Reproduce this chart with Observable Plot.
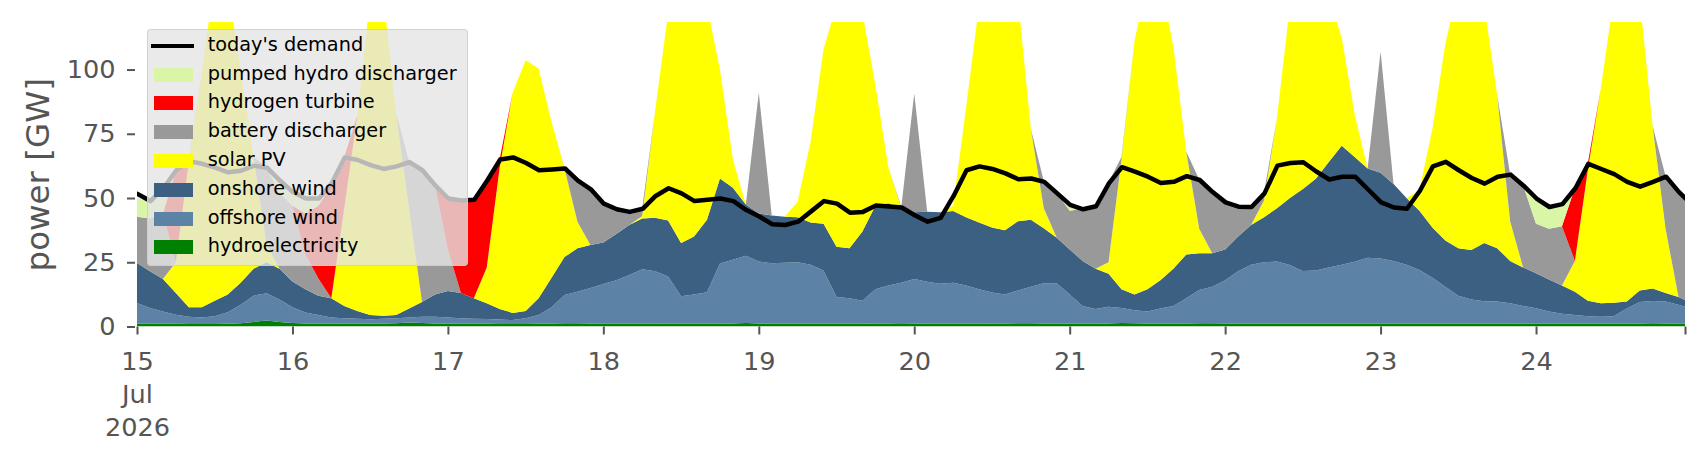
<!DOCTYPE html>
<html>
<head>
<meta charset="utf-8">
<script src="https://cdn.jsdelivr.net/npm/d3@7"></script>
<script src="https://cdn.jsdelivr.net/npm/@observablehq/plot@0.6"></script>
<style>
  html, body { margin: 0; padding: 0; background: #fff; }
  #wrap { position: relative; width: 1706px; height: 460px; font-family: "DejaVu Sans", sans-serif; }
  #legend {
    position: absolute; left: 146.7px; top: 29.3px; width: 321.6px; height: 236.4px;
    box-sizing: border-box; background: rgba(229,229,229,0.8);
    border: 1.5px solid rgba(204,204,204,0.8); border-radius: 4px;
  }
  .sw { position: absolute; left: 6px; width: 39.3px; height: 14px; }
  .ln { position: absolute; left: 3.5px; width: 43.3px; height: 4.5px; background: #000; }
  .lb { position: absolute; left: 60px; height: 28px; line-height: 28px; font-size: 19.3px; color: #000; white-space: nowrap; }
</style>
</head>
<body>
<div id="wrap"><div id="chart"></div><div id="legend"></div></div>
<script>
// hours after 15 Jul 2026 00:00
const hours = [
  0,2,4,6,8,10,12,14,16,18,20,22,
  24,26,28,30,32,34,36,38,40,42,44,46,
  48,50,52,54,56,58,60,62,64,66,68,70,
  72,74,76,78,80,82,84,86,88,90,92,94,
  96,98,100,102,104,106,108,110,112,114,116,118,
  120,122,124,126,128,130,132,134,136,138,140,142,
  144,146,148,150,152,154,156,158,160,162,164,166,
  168,170,172,174,176,178,180,182,184,186,188,190,
  192,194,196,198,200,202,204,206,208,210,212,214,
  216,218,220,222,224,226,228,230,232,234,236,238,239
];

// generation by technology [GW]
const hydroelectricity = [
  1.2,1.2,1.1,1.1,1.0,1.0,1.0,1.1,1.3,1.8,2.3,1.8,
  1.4,1.2,1.2,1.2,1.1,1.1,1.1,1.2,1.3,1.6,1.4,1.2,
  1.2,1.1,1.1,1.1,1.0,1.0,1.0,1.1,1.2,1.3,1.3,1.2,
  1.2,1.2,1.2,1.2,1.2,1.1,1.1,1.1,1.1,1.1,1.2,1.4,
  1.2,1.1,1.1,1.1,1.1,1.1,1.1,1.1,1.1,1.2,1.2,1.3,
  1.2,1.1,1.1,1.1,1.1,1.1,1.2,1.2,1.3,1.3,1.2,1.2,
  1.1,1.1,1.1,1.2,1.4,1.3,1.2,1.2,1.2,1.2,1.3,1.3,
  1.2,1.2,1.2,1.2,1.2,1.2,1.2,1.2,1.2,1.2,1.2,1.2,
  1.2,1.2,1.2,1.2,1.2,1.2,1.2,1.2,1.2,1.2,1.2,1.1,
  1.1,1.1,1.1,1.1,1.1,1.1,1.1,1.1,1.2,1.3,1.2,1.1,1.1
];
const offshoreWind = [
  7.9,6.0,4.7,3.5,2.8,2.5,3.0,4.4,7.2,10.2,10.6,8.7,
  6.1,4.2,3.3,2.3,2.1,1.9,1.7,1.8,1.9,1.9,2.4,2.6,
  2.3,2.1,1.9,1.8,1.7,1.5,2.2,3.4,6.3,11.0,12.2,13.8,
  15.3,16.8,18.8,21.1,20.3,18.4,10.7,11.4,12.2,23.4,24.8,26.1,
  24.1,23.5,23.7,23.9,22.9,20.7,10.4,9.9,8.9,13.3,14.8,15.7,
  17.3,16.3,15.5,15.9,14.9,13.4,12.0,11.3,12.7,14.2,15.6,15.6,
  11.4,6.9,5.7,6.5,5.8,5.0,4.6,5.8,6.8,9.8,12.9,14.2,
  16.8,20.3,22.8,23.8,24.1,22.7,20.4,20.6,21.8,22.8,24.0,25.6,
  25.3,24.3,22.8,20.8,17.8,14.3,10.8,9.3,8.6,8.5,7.8,6.9,
  6.0,4.7,3.9,3.4,2.9,2.7,2.9,5.9,8.3,8.6,8.5,7.4,6.6
];
const onshoreWind = [
  15.6,14.3,12.7,8.4,3.7,4.0,6.0,7.0,8.5,10.5,12.1,12.0,
  10.0,9.1,7.5,7.5,4.8,3.0,1.7,1.2,1.3,3.5,5.7,8.7,
  10.3,9.8,8.0,6.1,4.1,2.8,2.8,6.5,11.5,14.7,17.0,16.7,
  16.2,18.0,19.5,19.7,20.8,21.8,20.7,22.5,28.2,33.1,28.0,20.0,
  18.7,18.6,17.9,17.5,16.5,18.2,19.5,19.5,27.0,32.5,32.0,29.0,
  26.0,27.3,27.9,27.9,26.5,26.0,25.3,25.0,27.0,26.0,21.4,17.7,
  17.5,17.5,15.7,12.8,7.3,6.2,8.7,11.0,14.5,17.0,14.3,13.0,
  12.0,13.5,15.5,17.5,20.7,26.1,31.9,35.7,41.0,46.3,40.8,34.7,
  33.3,30.0,26.0,23.0,19.5,18.0,18.5,19.3,22.7,20.8,16.5,15.0,
  13.6,12.5,11.0,9.0,6.0,5.2,5.2,2.7,4.5,4.9,3.3,3.0,2.6
];
const solarPV = [
  0,0,0,12,56.5,91.5,125,119.5,83,43.5,7,0,
  0,0,0,0,38,76,123.5,125.8,78.5,39,0,0,
  0,0,0,14,55.2,85.7,97.6,89.4,60.7,34.5,10.3,0,
  0,0,0,1,41.7,80.7,102.5,103,83.5,42.4,11,0,
  0,0,0,6,31.5,68,94,107.5,85,47,14,0,
  0,0,0,2.1,42.5,84.5,99.5,97.5,87,35.5,7.8,0,
  0,0,0,4.5,50.5,98.5,120.5,117,86.5,40,9.5,0,
  0,0,0,6.5,35,75,86.5,82.5,64,42.2,16.5,0,
  0,0,0,8,38.5,76.5,101.5,105.2,92.5,59.5,15.5,0,
  0,0,0,12,51,83.6,118.8,128.3,114,63.2,25,0,0
];
const batteryDischarger = [
  18,20.5,25.5,0,0,0,0,0,0,0,30,29.5,
  29.5,13.5,6.7,0,0,0,0,0,0,18.2,51.5,42.5,
  16.2,0,0,0,0,0,0,0,0,0.2,16.2,21.9,
  15.3,9.8,5.3,3,0,0,0,0,0,0,0,0,
  47,0,0,0,0,0,0,0,0,0,0,0.5,
  46.2,0,0,0,0,0,0,0,0,0,10.5,17.5,
  15,20.3,24.5,31,1,0,0,0,0,0,19.2,24,
  18.5,11.8,7.2,3,0,0,0,0,0,0,0,0,
  47.2,0,0,0,0,0,0,0,0,0,18.3,32,
  19.3,19.7,23,0,0,0,0,0,0,0,20.5,41,39.7
];
const hydrogenTurbine = [
  0,0,0,35.5,0.5,0,0,0,0,0,0,0,
  0,16,28.3,44,20,0,0,0,0,0,0,0,
  20,36.2,38.5,34,3.2,0,0,0,0,0,0,0,
  0,0,0,0,0,0,0,0,0,0,0,0,
  0,0,0,0,0,0,0,0,0,0,0,0,
  0,0,0,0,0,0,0,0,0,0,0,0,
  0,0,0,0,0,0,0,0,0,0,0,0,
  0,0,0,0,0,0,0,0,0,0,0,0,
  0,0,0,0,0,0,0,0,0,0,0,0,
  0,0,0,28.5,2.5,0,0,0,0,0,0,0,0
];
const pumpedHydroDischarger = [
  7.3,6.5,9,0,0,0,0,0,0,0,0,5,
  5.5,6,3,1,0,0,0,0,0,0,0,0,
  0,0,0,0,0,0,0,0,0,0,0,0,
  0,0,0,0,0,0,0,0,0,0,0,0,
  0,0,0,0,0,0,0,0,0,0,0,0,
  0,0,0,0,0,0,0,0,0,0,0,0,
  2.5,0,0,0,0,0,0,0,0,0,0,0,
  0,0,0,0,0,0,0,0,0,0,0,0,
  0,0,0,0,0,0,0,0,0,0,0,0,
  10,8.7,8.8,0,0,0,0,0,0,0,0,0,0
];
const todaysDemand = [
  51.8,49,54,61,64.5,63.5,62,60.2,60.8,62.8,62,57,
  52.5,50,50,56,66,65,63,61.5,62.5,64.2,61,55,
  50,49.2,49.5,57,65.2,66,63.8,61,61.3,61.7,57,53.6,
  48,45.8,44.8,46,51,54,52,49,49.5,50,49,45.5,
  43,40,39.7,41,45,49,48,44.5,44.8,47.3,46.9,46.5,
  43.5,41,42.5,51,61,62.5,61.5,59.8,57.5,57.8,56.5,52,
  47.5,45.8,47,56,62.2,60.5,58.5,56,56.5,58.7,57.2,52.5,
  48.5,46.8,46.7,52,62.8,63.8,64.1,60.5,57.4,58.5,58.5,53.5,
  48.5,46.5,46,53,62.5,64.3,61,58,55.8,58.5,59.3,55,
  50,46.7,47.8,54,63.5,61.5,59.5,56.5,54.6,56.5,58.5,52.5,50
];

const seriesNames = ["hydroelectricity","offshore wind","onshore wind","solar PV","battery discharger","hydrogen turbine","pumped hydro discharger"];
const seriesColors = ["#008000","#5c83a6","#3b6082","#ffff00","#999999","#ff0000","#d9f5a6"];
const seriesValues = [hydroelectricity, offshoreWind, onshoreWind, solarPV, batteryDischarger, hydrogenTurbine, pumpedHydroDischarger];
const demandName = "today's demand";

const yTicks = [0, 25, 50, 75, 100];
const xTickHours = [0, 24, 48, 72, 96, 120, 144, 168, 192, 216, 239];
const xTickLabels = ["15\nJul\n2026","16","17","18","19","20","21","22","23","24",""];
const yLabel = "power [GW]";

const start = Date.UTC(2026, 6, 15);
const toDate = h => new Date(start + h * 3600000);
const dates = hours.map(toDate);

const rows = seriesNames.flatMap((name, k) =>
  seriesValues[k].map((v, i) => ({date: dates[i], value: v, series: name})));
const demandRows = todaysDemand.map((v, i) => ({date: dates[i], value: v}));
const tickDates = xTickHours.map(toDate);
const labelOf = new Map(tickDates.map((d, i) => [+d, xTickLabels[i]]));

const chart = Plot.plot({
  width: 1706,
  height: 460,
  marginLeft: 137,
  marginRight: 21,
  marginTop: 22,
  marginBottom: 133.5,
  style: {fontFamily: "'DejaVu Sans', sans-serif", fontSize: "25.6px", color: "#555", background: "#fff"},
  x: {type: "utc", domain: [dates[0], dates[dates.length - 1]], label: null},
  y: {domain: [0, 118.5], label: null},
  color: {domain: seriesNames, range: seriesColors},
  marks: [
    Plot.areaY(rows, {x: "date", y: "value", fill: "series", order: seriesNames, clip: true}),
    Plot.lineY(demandRows, {x: "date", y: "value", stroke: "#000", strokeWidth: 4.5, clip: true}),
    Plot.axisY({ticks: yTicks, tickSize: 8, tickPadding: 12, dx: -2, strokeWidth: 2, label: null, fontSize: 25.6}),
    Plot.axisX({ticks: tickDates, tickFormat: d => labelOf.get(+d) ?? "", tickSize: 8, tickPadding: 11,
                strokeWidth: 2, lineHeight: 1.3, label: null, fontSize: 25.6}),
    Plot.text([yLabel], {frameAnchor: "left", textAnchor: "middle", rotate: -90, dx: -99, fontSize: 32.5, fill: "#555"})
  ]
});
document.getElementById("chart").appendChild(chart);

// legend (drawn over the plot, semi-transparent like the original)
const legend = document.getElementById("legend");
const entries = [{name: demandName, line: true}]
  .concat(seriesNames.map((n, k) => ({name: n, color: seriesColors[k]})).reverse());
entries.forEach((e, k) => {
  const cy = 15.5 + 28.8 * k;
  const mark = document.createElement("div");
  if (e.line) { mark.className = "ln"; mark.style.top = (cy - 2.2) + "px"; }
  else { mark.className = "sw"; mark.style.top = (cy - 7) + "px"; mark.style.background = e.color; }
  legend.appendChild(mark);
  const lb = document.createElement("div");
  lb.className = "lb";
  lb.style.top = (cy - 15) + "px";
  lb.textContent = e.name;
  legend.appendChild(lb);
});
</script>
</body>
</html>
